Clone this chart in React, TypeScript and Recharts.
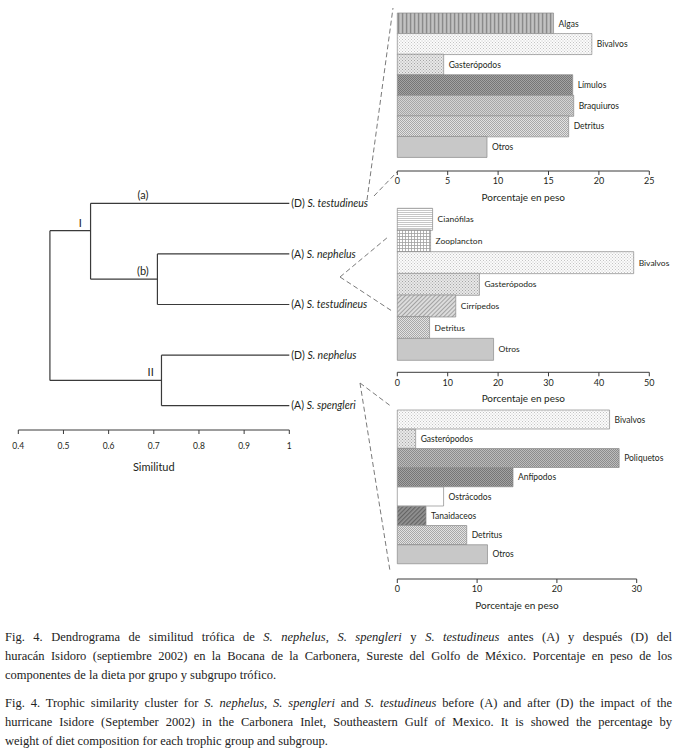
import React from "react";
import {
  BarChart,
  Bar,
  XAxis,
  YAxis,
  Cell,
  LabelList,
  ComposedChart,
  Scatter,
  ReferenceLine,
  ReferenceDot,
} from "recharts";

const FONT = "Lato, 'Liberation Sans', sans-serif";
const INK = "#231f20";
const LINE = "#3a3a3a";

// dendrogram (similitud trófica)
const leafGroups = ["(D)", "(A)", "(A)", "(D)", "(A)"];
const leafSpecies = ["S. testudineus", "S. nephelus", "S. testudineus", "S. nephelus", "S. spengleri"];
const leafRows = [0, 1, 2, 3, 4];
const nodeNames = ["b", "I", "II", "root"];
const nodeSimilarity = [0.708, 0.56, 0.717, 0.47];
const nodeRows = [1.5, 0.54, 3.5, 2];
const nodeChildren = [
  ["L1", "L2"],
  ["L0", "b"],
  ["L3", "L4"],
  ["I", "II"],
];
const similTicks = [0.4, 0.5, 0.6, 0.7, 0.8, 0.9, 1];
const clusterTags = ["I", "(a)", "(b)", "II"];
const tagSimilarity = [0.537, 0.676, 0.676, 0.693];
const tagRows = [0.54, 0, 1.5, 3.5];

// (D) S. testudineus — grupo I (a)
const groupACategories = ["Algas", "Bivalvos", "Gasterópodos", "Límulos", "Braquiuros", "Detritus", "Otros"];
const groupAValues = [15.5, 19.3, 4.6, 17.4, 17.5, 17.0, 8.9];
const groupATicks = [0, 5, 10, 15, 20, 25];

// (A) S. nephelus + (A) S. testudineus — grupo I (b)
const groupBCategories = ["Cianófilas", "Zooplancton", "Bivalvos", "Gasterópodos", "Cirrípedos", "Detritus", "Otros"];
const groupBValues = [7.0, 6.6, 46.9, 16.3, 11.6, 6.4, 19.1];
const groupBTicks = [0, 10, 20, 30, 40, 50];

// (D) S. nephelus + (A) S. spengleri — grupo II
const groupIICategories = ["Bivalvos", "Gasterópodos", "Poliquetos", "Anfípodos", "Ostrácodos", "Tanaidaceos", "Detritus", "Otros"];
const groupIIValues = [26.6, 2.3, 27.8, 14.5, 5.8, 3.6, 8.7, 11.3];
const groupIITicks = [0, 10, 20, 30];

const groupAFills = ["url(#pVStripe)", "url(#pDotLight)", "url(#pDotMed)", "url(#pDarkFine)", "url(#pDotGray)", "url(#pChecker)", "#c8c8c8"];
const groupBFills = ["url(#pHLines)", "url(#pGrid)", "url(#pDotLight)", "url(#pDotMed)", "url(#pDiag)", "url(#pChecker)", "#c8c8c8"];
const groupIIFills = ["url(#pDotLight)", "url(#pDotMed)", "url(#pPoli)", "url(#pDarkFine)", "#ffffff", "url(#pDarkDiag)", "url(#pChecker)", "#c8c8c8"];

function Patterns() {
  const dots = (id: string, base: string, dot: string, step: number) => (
    <pattern id={id} width={step} height={step} patternUnits="userSpaceOnUse">
      <rect width={step} height={step} fill={base} />
      <rect x={0} y={0} width={1} height={1} fill={dot} />
      <rect x={step / 2} y={step / 2} width={1} height={1} fill={dot} />
    </pattern>
  );
  return (
    <svg width={0} height={0} style={{ position: "absolute" }}>
      <defs>
        <pattern id="pVStripe" width={4} height={4} patternUnits="userSpaceOnUse">
          <rect width={4} height={4} fill="#b4b4b4" />
          <rect x={0} width={1.1} height={4} fill="#8a8a8a" />
          <rect x={2.4} width={0.8} height={4} fill="#cccccc" />
        </pattern>
        {dots("pDotLight", "#fbfbfb", "#c4c4c4", 3)}
        {dots("pDotMed", "#e8e8e8", "#a4a4a4", 3)}
        {dots("pDarkFine", "#a3a3a3", "#767676", 2)}
        {dots("pDotGray", "#d4d4d4", "#a6a6a6", 2)}
        {dots("pChecker", "#e2e2e2", "#a8a8a8", 2)}
        {dots("pPoli", "#bcbcbc", "#8c8c8c", 2)}
        <pattern id="pHLines" width={3} height={2} patternUnits="userSpaceOnUse">
          <rect width={3} height={2} fill="#ffffff" />
          <rect y={0} width={3} height={0.8} fill="#b8b8b8" />
        </pattern>
        <pattern id="pGrid" width={3} height={3} patternUnits="userSpaceOnUse">
          <rect width={3} height={3} fill="#ffffff" />
          <rect y={0} width={3} height={0.8} fill="#a0a0a0" />
          <rect x={0} width={0.8} height={3} fill="#a0a0a0" />
        </pattern>
        <pattern id="pDiag" width={3} height={3} patternUnits="userSpaceOnUse" patternTransform="rotate(45)">
          <rect width={3} height={3} fill="#dcdcdc" />
          <rect x={0} width={1} height={3} fill="#a2a2a2" />
        </pattern>
        <pattern id="pDarkDiag" width={3} height={3} patternUnits="userSpaceOnUse" patternTransform="rotate(45)">
          <rect width={3} height={3} fill="#929292" />
          <rect x={0} width={1.2} height={3} fill="#646464" />
        </pattern>
      </defs>
    </svg>
  );
}

type PanelProps = {
  categories: string[];
  values: number[];
  fills: string[];
  ticks: number[];
  top: number;
  marginTop: number;
  plotHeight: number;
  plotWidth: number;
  padBottom: number;
};

function DietPanel({ categories, values, fills, ticks, top, marginTop, plotHeight, plotWidth, padBottom }: PanelProps) {
  const data = categories.map((name, i) => ({ name, value: values[i] }));
  const axisHeight = 36;
  const height = marginTop + plotHeight + axisHeight;
  const left = 7.3;
  return (
    <div style={{ position: "absolute", left: 390, top, width: 290, height }}>
      <BarChart
        width={290}
        height={height}
        data={data}
        layout="vertical"
        barCategoryGap={0}
        margin={{ top: marginTop, left, right: 290 - left - plotWidth, bottom: 0 }}
      >
        <XAxis
          type="number"
          domain={[0, ticks[ticks.length - 1]]}
          ticks={ticks}
          height={axisHeight}
          stroke={LINE}
          tickSize={4}
          tickMargin={3}
          tick={{ fontSize: 9, fill: INK, fontFamily: FONT }}
          label={{
            value: "Porcentaje en peso",
            position: "insideBottom",
            offset: 6,
            style: { fontSize: 10, fill: INK, fontFamily: FONT },
          }}
        />
        <YAxis type="category" dataKey="name" hide padding={{ top: 0, bottom: padBottom }} />
        <Bar dataKey="value" isAnimationActive={false} stroke="#8a8a8a" strokeWidth={0.7}>
          {data.map((d, i) => (
            <Cell key={d.name} fill={fills[i]} />
          ))}
          <LabelList
            dataKey="name"
            position="right"
            offset={5}
            style={{ fontSize: 8.5, fill: INK, fontFamily: FONT }}
          />
        </Bar>
      </BarChart>
    </div>
  );
}

function nodePos(id: string) {
  if (id.startsWith("L")) {
    const i = Number(id.slice(1));
    return { sim: 1, row: leafRows[i] };
  }
  const k = nodeNames.indexOf(id);
  return { sim: nodeSimilarity[k], row: nodeRows[k] };
}

function dendroSegments() {
  const segs: { x1: number; y1: number; x2: number; y2: number }[] = [];
  nodeNames.forEach((_, k) => {
    const s = nodeSimilarity[k];
    const kids = nodeChildren[k].map(nodePos);
    segs.push({ x1: s, y1: kids[0].row, x2: s, y2: kids[1].row });
    kids.forEach((c) => segs.push({ x1: c.sim, y1: c.row, x2: s, y2: c.row }));
  });
  return segs;
}

const LeafTick = (props: any) => {
  const { x, y, payload } = props;
  const i = payload.value;
  return (
    <text x={x} y={y} dy="0.35em" fontSize={10.5} fill={INK} fontFamily={FONT}>
      <tspan>{`${leafGroups[i]} `}</tspan>
      <tspan fontStyle="italic">{leafSpecies[i]}</tspan>
    </text>
  );
};

function Dendrogram() {
  const leaves = leafRows.map((r) => ({ sim: 1, row: r }));
  const segs = dendroSegments();
  return (
    <div style={{ position: "absolute", left: 0, top: 0, width: 390, height: 480 }}>
      <ComposedChart width={390} height={480} margin={{ top: 178, left: 18.3, right: 10.7, bottom: 5 }}>
        <XAxis
          type="number"
          dataKey="sim"
          domain={[0.4, 1]}
          ticks={similTicks}
          allowDataOverflow
          height={45}
          stroke={LINE}
          tickSize={4}
          tickMargin={8.5}
          tickFormatter={(v: number) => (v === 1 ? "1" : v.toFixed(1))}
          tick={{ fontSize: 8.5, fill: INK, fontFamily: FONT }}
          label={{
            value: "Similitud",
            position: "insideBottom",
            offset: 4,
            style: { fontSize: 11, fill: INK, fontFamily: FONT },
          }}
        />
        <YAxis
          type="number"
          dataKey="row"
          orientation="right"
          domain={[-0.5, 4.48]}
          reversed
          allowDataOverflow
          ticks={leafRows}
          width={90}
          axisLine={false}
          tickLine={false}
          tickSize={0}
          tickMargin={2}
          tick={<LeafTick />}
        />
        <Scatter data={leaves} isAnimationActive={false} shape={() => <g />} />
        {segs.map((s, i) => (
          <ReferenceLine
            key={i}
            segment={[
              { x: s.x1, y: s.y1 },
              { x: s.x2, y: s.y2 },
            ]}
            stroke={LINE}
            strokeWidth={1.2}
            ifOverflow="visible"
          />
        ))}
        {clusterTags.map((t, i) => (
          <ReferenceDot
            key={t}
            x={tagSimilarity[i]}
            y={tagRows[i]}
            r={0}
            ifOverflow="visible"
            label={{
              value: t,
              position: "top",
              offset: 4,
              style: { fontSize: 11, fill: INK, fontFamily: FONT },
            }}
          />
        ))}
      </ComposedChart>
    </div>
  );
}

// dashed connectors from the dendrogram leaves to the diet panels
const connectors = [
  [367, 200, 393, 8],
  [374, 196, 397, 172],
  [340, 277, 388, 237],
  [340, 277, 392, 311],
  [360, 383, 392, 407],
  [360, 383, 390, 571],
];

const I = ({ children }: { children: React.ReactNode }) => <i>{children}</i>;

const lineStyle: React.CSSProperties = {
  textAlign: "justify",
  textAlignLast: "justify",
  whiteSpace: "nowrap",
  height: 19,
};
const lastLine: React.CSSProperties = { height: 19, whiteSpace: "nowrap" };

export default function App() {
  return (
    <div
      style={{
        position: "relative",
        width: 680,
        height: 756,
        background: "#fff",
        overflow: "hidden",
      }}
    >
      <style>{"body{margin:0}"}</style>
      <Patterns />
      <Dendrogram />
      <DietPanel
        categories={groupACategories}
        values={groupAValues}
        fills={groupAFills}
        ticks={groupATicks}
        top={0}
        marginTop={13}
        plotHeight={158}
        plotWidth={252}
        padBottom={14}
      />
      <DietPanel
        categories={groupBCategories}
        values={groupBValues}
        fills={groupBFills}
        ticks={groupBTicks}
        top={200}
        marginTop={8.3}
        plotHeight={164}
        plotWidth={252}
        padBottom={12.3}
      />
      <DietPanel
        categories={groupIICategories}
        values={groupIIValues}
        fills={groupIIFills}
        ticks={groupIITicks}
        top={400}
        marginTop={10}
        plotHeight={169}
        plotWidth={239.4}
        padBottom={15}
      />
      <svg width={680} height={620} style={{ position: "absolute", left: 0, top: 0, pointerEvents: "none" }}>
        {connectors.map(([x1, y1, x2, y2], i) => (
          <line key={i} x1={x1} y1={y1} x2={x2} y2={y2} stroke="#6a6a6a" strokeWidth={0.9} strokeDasharray="5 3" />
        ))}
      </svg>
      <div
        style={{
          position: "absolute",
          left: 5,
          width: 667,
          top: 627.5,
          fontFamily: "'Liberation Serif', 'DejaVu Serif', serif",
          fontSize: 12.5,
          lineHeight: "19px",
          color: "#222",
        }}
      >
        <div style={lineStyle}>
          Fig. 4. Dendrograma de similitud trófica de <I>S. nephelus</I>, <I>S. spengleri</I> y <I>S. testudineus</I> antes (A) y después (D) del
        </div>
        <div style={lineStyle}>
          huracán Isidoro (septiembre 2002) en la Bocana de la Carbonera, Sureste del Golfo de México. Porcentaje en peso de los
        </div>
        <div style={lastLine}>componentes de la dieta por grupo y subgrupo trófico.</div>
        <div style={{ height: 9 }} />
        <div style={lineStyle}>
          Fig. 4. Trophic similarity cluster for <I>S. nephelus</I>, <I>S. spengleri</I> and <I>S. testudineus</I> before (A) and after (D) the impact of the
        </div>
        <div style={lineStyle}>
          hurricane Isidore (September 2002) in the Carbonera Inlet, Southeastern Gulf of Mexico. It is showed the percentage by
        </div>
        <div style={lastLine}>weight of diet composition for each trophic group and subgroup.</div>
      </div>
    </div>
  );
}
